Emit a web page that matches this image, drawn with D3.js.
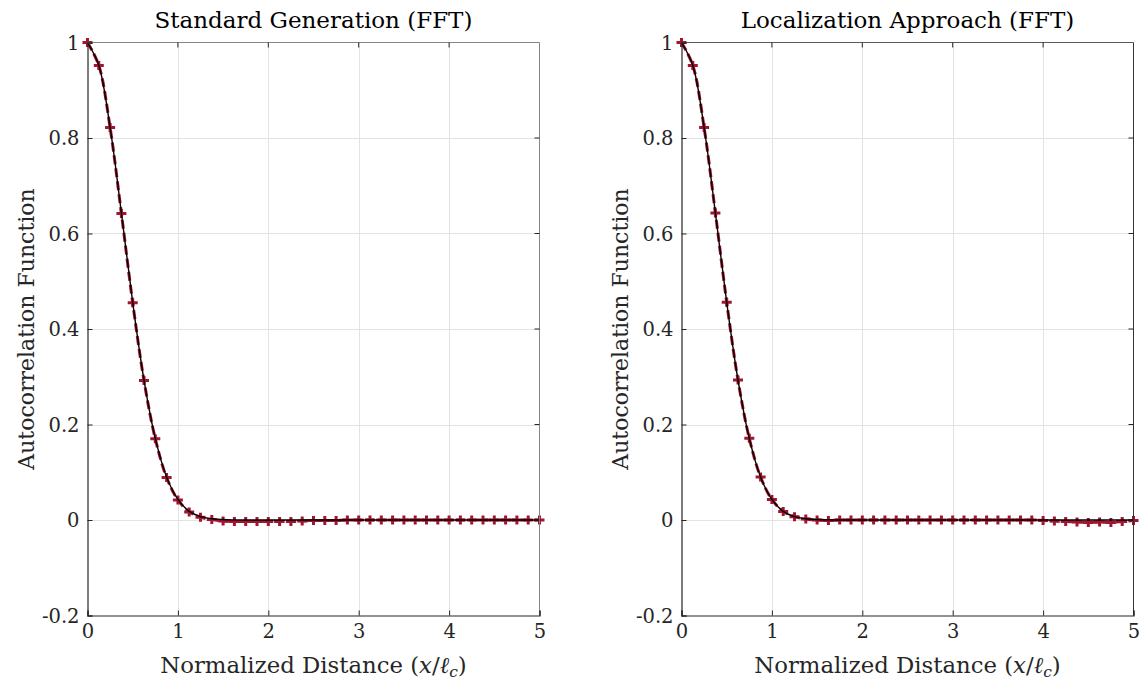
<!DOCTYPE html>
<html>
<head>
<meta charset="utf-8">
<script src="https://cdn.jsdelivr.net/npm/d3@7"></script>
<style>
  body { margin: 0; background: #fff; }
  svg { display: block; font-family: "DejaVu Serif", serif; }
</style>
</head>
<body>
<svg width="1146" height="683"></svg>
<script>
// lag positions (x / l_c), one sample every 1/8
let lags = d3.range(0, 41).map(i => i / 8);

// theoretical gaussian ACF
let theory = [1, 0.952, 0.822, 0.643, 0.456, 0.293, 0.171, 0.090, 0.043, 0.018, 0.007, 0.0026, 0.0009,
    0.0003, 0.0001, 0, 0, 0, 0, 0, 0, 0, 0, 0, 0, 0, 0, 0, 0, 0, 0, 0, 0, 0, 0, 0, 0, 0, 0, 0, 0];

// estimated ACF, standard generation
let standard = [1, 0.952, 0.822, 0.642, 0.455, 0.292, 0.170, 0.089, 0.042, 0.017, 0.006, 0.001, -0.002,
    -0.003, -0.003, -0.003, -0.003, -0.003, -0.003, -0.002, -0.001, -0.001, -0.001, 0, 0, 0, 0, 0, 0, 0,
    0, 0, 0, 0, 0, 0, 0, 0, 0, 0, 0];

// estimated ACF, localization approach
let localized = [1, 0.952, 0.822, 0.643, 0.456, 0.293, 0.171, 0.090, 0.043, 0.018, 0.007, 0.002, 0,
    -0.001, 0, 0, 0, 0, 0, 0, 0, 0, 0, 0, 0, 0, 0, 0, 0, 0, 0, 0, -0.001, -0.002, -0.003,
    -0.004, -0.005, -0.004, -0.005, -0.003, -0.001];

let panels = [
    {title: "Standard Generation (FFT)", values: standard, left: 87.5},
    {title: "Localization Approach (FFT)", values: localized, left: 681.5}
];

let xTicks = [0, 1, 2, 3, 4, 5];
let yTicks = [-0.2, 0, 0.2, 0.4, 0.6, 0.8, 1];
let yTickLabels = ["-0.2", "0", "0.2", "0.4", "0.6", "0.8", "1"];

let plotW = 452, plotTop = 42.5, plotBottom = 615.5;
let red = "#A2142F";
let axisColor = "#262626";
let serif = "'DejaVu Serif', serif";

let svg = d3.select("svg");

panels.forEach((p, i) => {
    let x = d3.scaleLinear([0, 5], [p.left, p.left + plotW]);
    let y = d3.scaleLinear([-0.2, 1], [plotBottom, plotTop]);
    let g = svg.append("g");

    // grid
    g.append("g")
        .attr("stroke", "#e3e3e3")
        .attr("stroke-width", 1)
        .call(gg => gg.selectAll("line.vx")
            .data(xTicks.slice(1, -1))
            .join("line")
            .attr("x1", d => Math.round(x(d)) + 0.5).attr("x2", d => Math.round(x(d)) + 0.5)
            .attr("y1", plotTop).attr("y2", plotBottom))
        .call(gg => gg.selectAll("line.hy")
            .data(yTicks.slice(1, -1))
            .join("line")
            .attr("y1", d => Math.round(y(d)) + 0.5).attr("y2", d => Math.round(y(d)) + 0.5)
            .attr("x1", p.left).attr("x2", p.left + plotW));

    let line = d3.line()
        .x((d, k) => x(lags[k]))
        .y(d => y(d))
        .curve(d3.curveCatmullRom);

    // estimated ACF: dashed red with + markers
    g.append("path")
        .attr("d", line(p.values))
        .attr("fill", "none")
        .attr("stroke", red)
        .attr("stroke-width", 3)
        .attr("stroke-dasharray", "9,4");

    g.append("g")
        .selectAll("path")
        .data(p.values)
        .join("path")
        .attr("transform", (d, k) => `translate(${x(lags[k])},${y(d)})`)
        .attr("d", "M-5,0H5M0,-4.5V4.5")
        .attr("stroke", red)
        .attr("stroke-width", 3);

    // theoretical curve on top
    g.append("path")
        .attr("d", line(theory))
        .attr("fill", "none")
        .attr("stroke", "#000")
        .attr("stroke-width", 1.4);

    // axes box
    let box = g.append("g").attr("fill", "none");
    box.append("line").attr("x1", p.left).attr("x2", p.left + plotW).attr("y1", plotTop).attr("y2", plotTop)
        .attr("stroke", i === 0 ? "#858585" : "#5a5a5a");
    box.append("line").attr("x1", p.left + plotW).attr("x2", p.left + plotW).attr("y1", plotTop).attr("y2", plotBottom)
        .attr("stroke", i === 0 ? "#858585" : "#333");

    let xAxis = g.append("g")
        .attr("transform", `translate(0,${plotBottom})`)
        .call(d3.axisBottom(x).tickValues(xTicks).tickSize(-5).tickPadding(9).tickFormat(d3.format("d")));
    let yAxis = g.append("g")
        .attr("transform", `translate(${p.left},0)`)
        .call(d3.axisLeft(y).tickValues(yTicks).tickSize(-5).tickPadding(8)
            .tickFormat((d, k) => yTickLabels[k]));

    [xAxis, yAxis].forEach(a => {
        a.select(".domain").attr("stroke", axisColor).attr("stroke-width", 1.2);
        a.selectAll(".tick line").attr("stroke", axisColor);
        a.selectAll(".tick text")
            .attr("fill", "#262626")
            .attr("font-family", serif)
            .attr("font-size", 19.5);
    });
    yAxis.selectAll(".tick text").attr("dy", "0.35em");

    // top/right ticks
    g.append("g").attr("stroke", axisColor)
        .selectAll("line")
        .data(xTicks.slice(1, -1))
        .join("line")
        .attr("x1", d => x(d)).attr("x2", d => x(d))
        .attr("y1", plotTop).attr("y2", plotTop + 5);
    g.append("g").attr("stroke", axisColor)
        .selectAll("line")
        .data(yTicks.slice(1, -1))
        .join("line")
        .attr("y1", d => y(d)).attr("y2", d => y(d))
        .attr("x1", p.left + plotW).attr("x2", p.left + plotW - 5);

    // title
    g.append("text")
        .attr("x", p.left + plotW / 2)
        .attr("y", 28)
        .attr("text-anchor", "middle")
        .attr("font-size", 23)
        .attr("fill", "#000")
        .text(p.title);

    // x label
    let xl = g.append("text")
        .attr("x", p.left + plotW / 2)
        .attr("y", 673)
        .attr("text-anchor", "middle")
        .attr("font-size", 22.8)
        .attr("fill", "#262626");
    xl.append("tspan").text("Normalized Distance (");
    xl.append("tspan").attr("font-style", "italic").text("x");
    xl.append("tspan").text("/");
    xl.append("tspan").attr("font-style", "italic").text("ℓ");
    xl.append("tspan").attr("font-style", "italic").attr("font-size", 15.5).attr("dy", 4).text("c");
    xl.append("tspan").attr("dy", -4).text(")");

    // y label
    g.append("text")
        .attr("transform", `translate(${p.left - 54},${(plotTop + plotBottom) / 2}) rotate(-90)`)
        .attr("text-anchor", "middle")
        .attr("font-size", 22)
        .attr("fill", "#262626")
        .text("Autocorrelation Function");
});
</script>
</body>
</html>
